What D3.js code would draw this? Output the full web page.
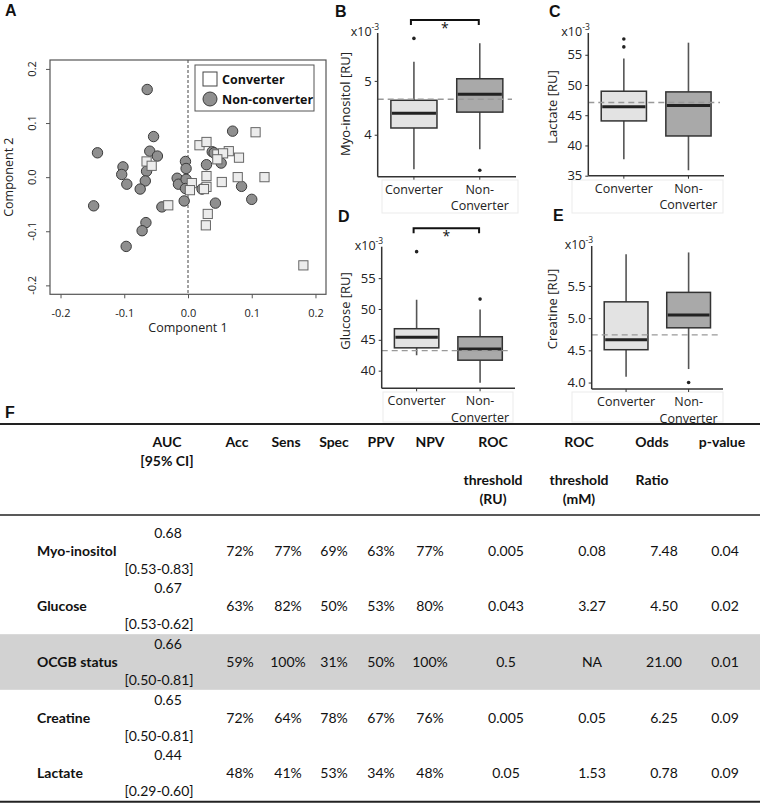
<!DOCTYPE html>
<html>
<head>
<meta charset="utf-8">
<script src="https://cdn.jsdelivr.net/npm/d3@7"></script>
<style>
  body { margin: 0; background: #fff; }
  svg { display: block; }
</style>
</head>
<body>
<div id="fig"></div>
<script>
// ---------- panel A : component scores ----------
const converterPts = [
  [0.106, 0.083], [0.018, 0.059], [0.029, 0.065], [0.046, 0.042], [0.064, 0.048],
  [0.055, 0.044], [0.046, 0.033], [0.080, 0.036], [-0.065, 0.029], [-0.057, 0.021],
  [0.029, 0.002], [0.078, 0.000], [0.120, 0.000], [0.053, -0.009], [0.006, -0.011],
  [0.029, -0.018], [0.003, -0.024], [0.025, -0.022], [-0.031, -0.052], [0.031, -0.068],
  [0.028, -0.089], [0.181, -0.163]
];
const nonConverterPts = [
  [-0.064, 0.162], [-0.142, 0.045], [-0.054, 0.075], [-0.060, 0.048], [-0.048, 0.039],
  [-0.102, 0.019], [-0.104, 0.005], [-0.096, -0.013], [-0.065, 0.011], [-0.067, -0.007],
  [-0.075, -0.022], [-0.004, 0.029], [-0.003, 0.016], [-0.017, -0.002], [-0.015, -0.013],
  [-0.003, -0.004], [-0.004, -0.021], [0.070, 0.085], [0.038, 0.047], [0.041, 0.045],
  [0.029, 0.023], [0.052, 0.026], [0.022, -0.022], [0.084, -0.017], [-0.148, -0.053],
  [-0.041, -0.055], [-0.006, -0.044], [0.043, -0.048], [0.100, -0.041], [-0.066, -0.084],
  [-0.072, -0.099], [-0.097, -0.128]
];
const scatterTicks = [-0.2, -0.1, 0, 0.1, 0.2];
const legendLabels = ["Converter", "Non-converter"];

// ---------- panels B-E : boxplots (lo, q1, median, q3, hi), x10^-3 ----------
const groups = ["Converter", "Non-Converter"];
const myoStats = [[3.36, 4.125, 4.40, 4.64, 5.354], [3.73, 4.42, 4.75, 5.04, 5.70]];
const myoOutliers = [[5.79], [3.34]];
const myoRef = 4.66;
const myoTicks = [4, 5];

const lacStats = [[37.7, 44.06, 46.4, 48.97, 54.4], [35.9, 41.57, 46.6, 48.86, 57.0]];
const lacOutliers = [[56.3, 57.6], []];
const lacRef = 47.1;
const lacTicks = [35, 40, 45, 50, 55];

const gluStats = [[42.5, 43.7, 45.4, 46.8, 51.5], [38.05, 41.7, 43.5, 45.5, 49.9]];
const gluOutliers = [[59.3], [51.6]];
const gluRef = 43.25;
const gluTicks = [40, 45, 50, 55];

const creStats = [[4.09, 4.51, 4.663, 5.253, 5.99], [4.21, 4.85, 5.05, 5.40, 6.02]];
const creOutliers = [[], [4.0]];
const creRef = 4.74;
const creTicks = [4.0, 4.5, 5.0, 5.5];

// ---------- panel F : table ----------
const headerLines = [
  ["AUC", "[95% CI]", "", ""],
  ["Acc", "", "", ""],
  ["Sens", "", "", ""],
  ["Spec", "", "", ""],
  ["PPV", "", "", ""],
  ["NPV", "", "", ""],
  ["ROC", "", "threshold", "(RU)"],
  ["ROC", "", "threshold", "(mM)"],
  ["Odds", "", "Ratio", ""],
  ["p-value", "", "", ""]
];
const rowNames = ["Myo-inositol", "Glucose", "OCGB status", "Creatine", "Lactate"];
const aucVals = ["0.68", "0.67", "0.66", "0.65", "0.44"];
const aucCI = ["[0.53-0.83]", "[0.53-0.62]", "[0.50-0.81]", "[0.50-0.81]", "[0.29-0.60]"];
const accVals = ["72%", "63%", "59%", "72%", "48%"];
const sensVals = ["77%", "82%", "100%", "64%", "41%"];
const specVals = ["69%", "50%", "31%", "78%", "53%"];
const ppvVals = ["63%", "53%", "50%", "67%", "34%"];
const npvVals = ["77%", "80%", "100%", "76%", "48%"];
const rocRU = ["0.005", "0.043", "0.5", "0.005", "0.05"];
const rocMM = ["0.08", "3.27", "NA", "0.05", "1.53"];
const oddsRatio = ["7.48", "4.50", "21.00", "6.25", "0.78"];
const pValues = ["0.04", "0.02", "0.01", "0.09", "0.09"];
const highlightRow = "OCGB status";

const width = 760, height = 803;
const plotFont = "'Open Sans', sans-serif";
const tableFont = "Lato, 'Open Sans', sans-serif";

const svg = d3.select("#fig").append("svg")
  .attr("width", width).attr("height", height)
  .attr("viewBox", [0, 0, width, height]);

function panelLetter(t, x, y) {
  svg.append("text").attr("x", x).attr("y", y)
    .attr("font-family", "'Liberation Sans', Arial, sans-serif")
    .attr("font-weight", "bold").attr("font-size", 16).attr("fill", "#111")
    .text(t);
}

// ================= A =================
{
  const x = d3.scaleLinear().domain([-0.2165, 0.2165]).range([50, 326]);
  const y = d3.scaleLinear().domain([-0.2165, 0.2165]).range([294.3, 60]);
  const g = svg.append("g").attr("font-family", plotFont);

  panelLetter("A", 5, 16);

  g.append("line")
    .attr("x1", x(0)).attr("x2", x(0)).attr("y1", 60).attr("y2", 294.3)
    .attr("stroke", "#444").attr("stroke-dasharray", "3,2");

  // points: non-converter circles then converter squares
  g.append("g").selectAll("circle")
    .data(nonConverterPts)
    .join("circle")
    .attr("cx", d => x(d[0])).attr("cy", d => y(d[1])).attr("r", 5.2)
    .attr("fill", "#8f8f8f").attr("stroke", "#3a3a3a").attr("stroke-width", 1);

  g.append("g").selectAll("rect")
    .data(converterPts)
    .join("rect")
    .attr("x", d => x(d[0]) - 4.6).attr("y", d => y(d[1]) - 4.6)
    .attr("width", 9.2).attr("height", 9.2)
    .attr("fill", "#ececec").attr("stroke", "#666").attr("stroke-width", 1);

  // box
  g.append("rect").attr("x", 50).attr("y", 60).attr("width", 276).attr("height", 234.3)
    .attr("fill", "none").attr("stroke", "#555").attr("stroke-width", 1.2);

  const xAxis = g.append("g").attr("transform", "translate(0,294.3)")
    .call(d3.axisBottom(x).tickValues(scatterTicks).tickSize(4).tickPadding(11)
      .tickFormat(d => d.toFixed(1)));
  xAxis.select(".domain").remove();
  xAxis.selectAll("line").attr("stroke", "#555");
  xAxis.selectAll("text").attr("font-size", 11).attr("fill", "#222")
    .attr("font-family", plotFont);

  const yAxis = g.append("g").attr("transform", "translate(50,0)")
    .call(d3.axisLeft(y).tickValues(scatterTicks).tickSize(4).tickFormat(""));
  yAxis.select(".domain").remove();
  yAxis.selectAll("line").attr("stroke", "#555");

  g.append("g").selectAll("text")
    .data(scatterTicks)
    .join("text")
    .attr("transform", d => `translate(32,${y(d)}) rotate(-90)`)
    .attr("text-anchor", "middle").attr("dy", "0.35em")
    .attr("font-size", 11).attr("fill", "#222")
    .text(d => d.toFixed(1));

  g.append("text").attr("x", x(0)).attr("y", 332)
    .attr("text-anchor", "middle").attr("font-size", 12.5).attr("fill", "#222")
    .text("Component 1");
  g.append("text").attr("transform", `translate(13,${y(0)}) rotate(-90)`)
    .attr("text-anchor", "middle").attr("font-size", 12.5).attr("fill", "#222")
    .text("Component 2");

  // legend
  const lg = g.append("g");
  lg.append("rect").attr("x", 195).attr("y", 65).attr("width", 119).attr("height", 46)
    .attr("fill", "#fff").attr("stroke", "#555").attr("stroke-width", 1);
  lg.append("rect").attr("x", 203).attr("y", 72).attr("width", 14).attr("height", 14)
    .attr("fill", "#fff").attr("stroke", "#444");
  lg.append("circle").attr("cx", 210).attr("cy", 99).attr("r", 7)
    .attr("fill", "#8f8f8f").attr("stroke", "#3a3a3a");
  lg.selectAll("text.lab")
    .data(legendLabels)
    .join("text")
    .attr("class", "lab")
    .attr("x", 222).attr("y", (d, i) => 84 + i * 20)
    .attr("font-size", 12.5).attr("font-weight", "bold").attr("fill", "#111")
    .text(d => d);
}

// ================= B-E =================
const boxPanels = [
  { letter: "B", lx: 335, ly: 17, ylab: "Myo-inositol [RU]", ylabX: 345, ylabY: 104,
    stats: myoStats, outliers: myoOutliers, ref: myoRef, ticks: myoTicks, fmt: d => d3.format("d")(d),
    domain: [3.22, 5.89], x0: 377.7, x1: 516, y0: 33, y1: 176.7,
    sigY: 20, frame: [382, 518, 180, 213] },
  { letter: "C", lx: 549, ly: 17, ylab: "Lactate [RU]", ylabX: 552, ylabY: 107,
    stats: lacStats, outliers: lacOutliers, ref: lacRef, ticks: lacTicks, fmt: d => d3.format("d")(d),
    domain: [35, 58.6], x0: 588.3, x1: 724, y0: 33, y1: 175.7,
    sigY: null, frame: [572, 723, 180, 213] },
  { letter: "D", lx: 338, ly: 222, ylab: "Glucose [RU]", ylabX: 345, ylabY: 311,
    stats: gluStats, outliers: gluOutliers, ref: gluRef, ticks: gluTicks, fmt: d => d3.format("d")(d),
    domain: [37.14, 60.1], x0: 381.7, x1: 515, y0: 246.7, y1: 388.3,
    sigY: 228.3, frame: [383, 513, 392, 422] },
  { letter: "E", lx: 553, ly: 221, ylab: "Creatine [RU]", ylabX: 552, ylabY: 309,
    stats: creStats, outliers: creOutliers, ref: creRef, ticks: creTicks, fmt: d => d3.format(".1f")(d),
    domain: [3.90, 6.12], x0: 591.7, x1: 723, y0: 246, y1: 389,
    sigY: null, frame: [572, 723, 392, 422] }
];

const boxFill = ["#e3e3e3", "#a9a9a9"];

boxPanels.forEach(p => {
  const g = svg.append("g").attr("font-family", plotFont);
  const x = d3.scaleBand().domain(groups).range([p.x0, p.x1])
    .paddingInner(0.3).paddingOuter(0.2);
  const y = d3.scaleLinear().domain(p.domain).range([p.y1, p.y0]);
  const bw = x.bandwidth();
  const cx = grp => x(grp) + bw / 2;

  panelLetter(p.letter, p.lx, p.ly);

  // faint frame under the axis
  g.append("rect").attr("x", p.frame[0]).attr("y", p.frame[2])
    .attr("width", p.frame[1] - p.frame[0]).attr("height", p.frame[3] - p.frame[2])
    .attr("fill", "none").attr("stroke", "#ebebeb").attr("stroke-width", 1);

  const bg = g.append("g").selectAll("g")
    .data(groups)
    .join("g");
  // whiskers
  bg.append("line")
    .attr("x1", d => cx(d)).attr("x2", d => cx(d))
    .attr("y1", (d, i) => y(p.stats[i][0])).attr("y2", (d, i) => y(p.stats[i][4]))
    .attr("stroke", "#555").attr("stroke-width", 1.6);
  bg.append("rect")
    .attr("x", d => x(d)).attr("width", bw)
    .attr("y", (d, i) => y(p.stats[i][3]))
    .attr("height", (d, i) => y(p.stats[i][1]) - y(p.stats[i][3]))
    .attr("fill", (d, i) => boxFill[i]).attr("stroke", "#333").attr("stroke-width", 1.5);
  bg.append("line")
    .attr("x1", d => x(d) + 1).attr("x2", d => x(d) + bw - 1)
    .attr("y1", (d, i) => y(p.stats[i][2])).attr("y2", (d, i) => y(p.stats[i][2]))
    .attr("stroke", "#222").attr("stroke-width", 3);
  bg.selectAll("circle")
    .data((d, i) => p.outliers[i].map(v => ({ g: d, v })))
    .join("circle")
    .attr("cx", d => cx(d.g)).attr("cy", d => y(d.v)).attr("r", 1.8)
    .attr("fill", "#222");

  // reference dashed line
  g.append("line")
    .attr("x1", p.x0).attr("x2", p.x1 - 4)
    .attr("y1", y(p.ref)).attr("y2", y(p.ref))
    .attr("stroke", "#999").attr("stroke-width", 1.4).attr("stroke-dasharray", "6,4");

  // axes
  const ya = g.append("g").attr("transform", `translate(${p.x0},0)`)
    .call(d3.axisLeft(y).tickValues(p.ticks).tickSize(3).tickPadding(3).tickFormat(p.fmt));
  ya.select(".domain").attr("d", `M0,${p.y0}V${p.y1}`).attr("stroke", "#333").attr("stroke-width", 1.5);
  ya.selectAll("line").attr("stroke", "#333");
  ya.selectAll("text").attr("font-size", 13).attr("fill", "#222").attr("font-family", plotFont);

  const xa = g.append("g").attr("transform", `translate(0,${p.y1})`)
    .call(d3.axisBottom(x).tickSize(3).tickFormat(""));
  xa.select(".domain").attr("d", `M${p.x0},0H${p.x1}`).attr("stroke", "#333").attr("stroke-width", 1.5);
  xa.selectAll("line").attr("stroke", "#333");

  // category labels
  g.append("text").attr("x", cx(groups[0])).attr("y", p.y1 + 17)
    .attr("text-anchor", "middle").attr("font-size", 12.5).attr("fill", "#222")
    .text(groups[0]);
  g.append("text").attr("x", cx(groups[1])).attr("y", p.y1 + 17)
    .attr("text-anchor", "middle").attr("font-size", 12.5).attr("fill", "#222")
    .text("Non-");
  g.append("text").attr("x", cx(groups[1])).attr("y", p.y1 + 33.5)
    .attr("text-anchor", "middle").attr("font-size", 12.5).attr("fill", "#222")
    .text("Converter");

  // y label and multiplier
  g.append("text").attr("transform", `translate(${p.ylabX},${p.ylabY}) rotate(-90)`)
    .attr("text-anchor", "middle").attr("dy", "0.35em")
    .attr("font-size", 13).attr("fill", "#222").text(p.ylab);
  const mt = g.append("text").attr("x", p.x0 - 27).attr("y", p.y0 + 3)
    .attr("font-size", 12.5).attr("fill", "#222");
  mt.append("tspan").text("x10");
  mt.append("tspan").attr("dy", -6).attr("font-size", 8.5).text("-3");

  // significance bracket
  if (p.sigY !== null) {
    const a = cx(groups[0]) - 3, b = cx(groups[1]) - 1;
    g.append("path")
      .attr("d", `M${a},${p.sigY + 5}V${p.sigY}H${b}V${p.sigY + 5}`)
      .attr("fill", "none").attr("stroke", "#111").attr("stroke-width", 2);
    g.append("text").attr("x", (a + b) / 2).attr("y", p.sigY + 13)
      .attr("text-anchor", "middle").attr("font-size", 14).attr("fill", "#111")
      .text("*");
  }
});

// ================= F : table =================
{
  const g = svg.append("g").attr("font-family", tableFont).attr("font-size", 14).attr("fill", "#111");
  panelLetter("F", 5, 418);

  const headX = [167, 237, 286, 334, 381, 430, 493, 579, 652, 722];
  const valX = [168, 240, 288, 334, 381, 430, 506, 592, 664, 725];
  const headY = [442, 461, 480, 499];
  const rowY = d3.scaleBand().domain(rowNames).range([523, 801]);
  const lineGap = 18;

  // highlighted row
  g.append("rect").attr("x", 0).attr("width", width)
    .attr("y", rowY(highlightRow)).attr("height", rowY.bandwidth())
    .attr("fill", "#d2d2d2");

  // rules
  g.append("line").attr("x1", 0).attr("x2", width).attr("y1", 424).attr("y2", 424)
    .attr("stroke", "#222").attr("stroke-width", 2);
  g.append("line").attr("x1", 0).attr("x2", width).attr("y1", 515).attr("y2", 515)
    .attr("stroke", "#222").attr("stroke-width", 1.5);
  g.append("line").attr("x1", 0).attr("x2", width).attr("y1", 801.8).attr("y2", 801.8)
    .attr("stroke", "#222").attr("stroke-width", 2);

  // header
  headerLines.forEach((lines, c) => {
    lines.forEach((t, k) => {
      if (!t) return;
      g.append("text").attr("x", headX[c]).attr("y", headY[k]).attr("dy", "0.35em")
        .attr("text-anchor", "middle").attr("font-weight", "bold").text(t);
    });
  });

  const valueCols = [accVals, sensVals, specVals, ppvVals, npvVals, rocRU, rocMM, oddsRatio, pValues];

  rowNames.forEach((name, r) => {
    const cy = rowY(name) + rowY.bandwidth() / 2;
    g.append("text").attr("x", 37).attr("y", cy).attr("dy", "0.35em")
      .attr("font-weight", "bold").text(name);
    g.append("text").attr("x", valX[0]).attr("y", cy - lineGap).attr("dy", "0.35em")
      .attr("text-anchor", "middle").text(aucVals[r]);
    g.append("text").attr("x", valX[0] - 9).attr("y", cy + lineGap).attr("dy", "0.35em")
      .attr("text-anchor", "middle").text(aucCI[r]);
    valueCols.forEach((col, c) => {
      g.append("text").attr("x", valX[c + 1]).attr("y", cy).attr("dy", "0.35em")
        .attr("text-anchor", "middle").text(col[r]);
    });
  });
}
</script>
</body>
</html>
